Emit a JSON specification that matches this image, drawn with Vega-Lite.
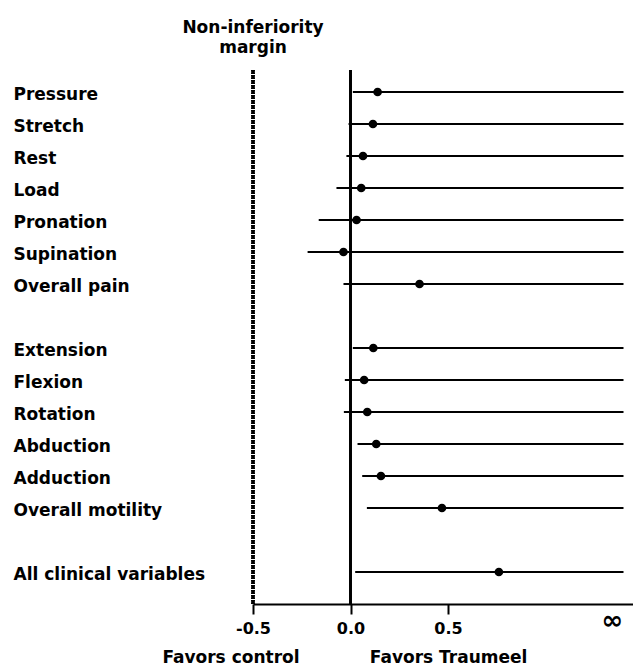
{
  "$schema": "https://vega.github.io/schema/vega-lite/v6.json",
  "width": 380,
  "height": 534,
  "autosize": {"type": "none"},
  "padding": {"left": 253, "top": 70, "right": 0, "bottom": 62},
  "background": "white",
  "config": {
    "view": {"stroke": null},
    "axis": {"grid": false},
    "font": "DejaVu Sans",
    "text": {"font": "DejaVu Sans", "fontWeight": "bold", "fontSize": 17, "color": "black"}
  },
  "datasets": {
    "rows": [
      {"variable": "Pressure", "estimate": 0.139, "lower": 0.012, "upper": 1.4},
      {"variable": "Stretch", "estimate": 0.115, "lower": -0.01, "upper": 1.4},
      {"variable": "Rest", "estimate": 0.064, "lower": -0.021, "upper": 1.4},
      {"variable": "Load", "estimate": 0.055, "lower": -0.072, "upper": 1.4},
      {"variable": "Pronation", "estimate": 0.031, "lower": -0.163, "upper": 1.4},
      {"variable": "Supination", "estimate": -0.036, "lower": -0.22, "upper": 1.4},
      {"variable": "Overall pain", "estimate": 0.354, "lower": -0.036, "upper": 1.4},
      {"variable": "Extension", "estimate": 0.117, "lower": 0.012, "upper": 1.4},
      {"variable": "Flexion", "estimate": 0.07, "lower": -0.029, "upper": 1.4},
      {"variable": "Rotation", "estimate": 0.086, "lower": -0.034, "upper": 1.4},
      {"variable": "Abduction", "estimate": 0.132, "lower": 0.036, "upper": 1.4},
      {"variable": "Adduction", "estimate": 0.156, "lower": 0.06, "upper": 1.4},
      {"variable": "Overall motility", "estimate": 0.469, "lower": 0.084, "upper": 1.4},
      {"variable": "All clinical variables", "estimate": 0.761, "lower": 0.024, "upper": 1.4}
    ],
    "notes": [
      {"pos": -0.613, "note": "Favors control"},
      {"pos": 0.503, "note": "Favors Traumeel"}
    ]
  },
  "data": {"name": "rows"},
  "encoding": {
    "y": {
      "field": "variable",
      "type": "nominal",
      "sort": null,
      "scale": {
        "type": "point",
        "domain": ["Pressure", "Stretch", "Rest", "Load", "Pronation", "Supination", "Overall pain", " ", "Extension", "Flexion", "Rotation", "Abduction", "Adduction", "Overall motility", "  ", "All clinical variables"],
        "padding": 0.84375,
        "align": 0.4074
      },
      "axis": {
        "title": null,
        "domain": false,
        "ticks": false,
        "tickSize": 0,
        "labelAlign": "left",
        "labelPadding": 240,
        "labelOffset": 3,
        "labelFont": "DejaVu Sans",
        "labelFontWeight": "bold",
        "labelFontSize": 17,
        "labelColor": "black",
        "labelLimit": 300
      }
    }
  },
  "layer": [
    {
      "mark": {"type": "rule", "strokeWidth": 2.5, "strokeDash": [1.5, 1], "color": "black"},
      "encoding": {"x": {"datum": -0.5, "type": "quantitative"}, "y": null}
    },
    {
      "mark": {"type": "rule", "strokeWidth": 1.5, "color": "black"},
      "encoding": {"x": {"datum": 0, "type": "quantitative"}, "y": null}
    },
    {
      "mark": {"type": "rule", "strokeWidth": 2, "color": "black"},
      "encoding": {
        "x": {
          "field": "lower",
          "type": "quantitative",
          "scale": {"domain": [-0.5, 1.4487], "nice": false, "zero": false},
          "axis": {
            "title": null,
            "values": [-0.5, 0, 0.5, 1.34],
            "labelExpr": "datum.value > 1 ? '∞' : (datum.value < 0 ? '-' : '') + format(abs(datum.value), '.1f')",
            "domainColor": "black",
            "domainWidth": 2,
            "tickColor": "black",
            "tickWidth": 2,
            "tickSize": 10,
            "tickOpacity": {"condition": {"test": "datum.value > 1", "value": 0}, "value": 1},
            "labelFont": "DejaVu Sans",
            "labelFontWeight": "bold",
            "labelFontSize": {"condition": {"test": "datum.value > 1", "value": 26}, "value": 16},
            "labelBaseline": {"condition": {"test": "datum.value > 1", "value": "middle"}, "value": "top"},
            "labelColor": "black",
            "labelPadding": 6,
            "labelFlush": false,
            "labelOverlap": false
          }
        },
        "x2": {"field": "upper"}
      }
    },
    {
      "mark": {"type": "circle", "size": 75, "opacity": 1, "color": "black"},
      "encoding": {"x": {"field": "estimate", "type": "quantitative"}}
    },
    {
      "data": {"name": "notes"},
      "mark": {"type": "text", "baseline": "alphabetic", "align": "center", "dy": 91},
      "encoding": {
        "x": {"field": "pos", "type": "quantitative"},
        "y": {"datum": "All clinical variables"},
        "text": {"field": "note"}
      }
    },
    {
      "data": {"values": [{"pos": -0.5, "note": ["Non-inferiority", "margin"]}]},
      "mark": {"type": "text", "baseline": "alphabetic", "align": "center", "dy": -59, "lineHeight": 20},
      "encoding": {
        "x": {"field": "pos", "type": "quantitative"},
        "y": {"datum": "Pressure"},
        "text": {"field": "note"}
      }
    }
  ]
}
